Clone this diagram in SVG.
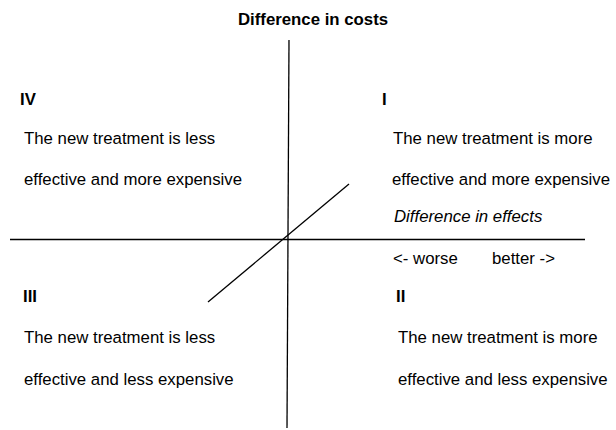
<svg xmlns="http://www.w3.org/2000/svg" width="616" height="430" viewBox="0 0 616 430">
<style>
text{font-family:"Liberation Sans",Arial,sans-serif;font-size:16.8px;fill:#000}
.b{font-weight:bold}
.i{font-style:italic}
.ax{stroke:#000;stroke-width:1.3;fill:none}
</style>
<rect width="616" height="430" fill="#fff"/>
<g id="connectors">
<line class="ax" x1="289" y1="40" x2="287" y2="428"/>
<line class="ax" x1="10" y1="239.5" x2="585" y2="239.5"/>
<line class="ax" x1="208" y1="302" x2="349" y2="184"/>
</g>
<g id="title"><text class="b" x="313" y="25" text-anchor="middle">Difference in costs</text></g>
<g id="q4">
<text class="b" x="20" y="105">IV</text>
<text x="24" y="144">The new treatment is less</text>
<text x="24" y="185">effective and more expensive</text>
</g>
<g id="q1">
<text class="b" x="382" y="105">I</text>
<text x="393" y="144">The new treatment is more</text>
<text x="392" y="185">effective and more expensive</text>
</g>
<g id="effects">
<text class="i" x="394" y="222">Difference in effects</text>
<text x="393" y="264">&lt;- worse</text>
<text x="492" y="264">better -&gt;</text>
</g>
<g id="q3">
<text class="b" x="23" y="302">III</text>
<text x="24" y="343">The new treatment is less</text>
<text x="24" y="385">effective and less expensive</text>
</g>
<g id="q2">
<text class="b" x="396" y="302">II</text>
<text x="398" y="343">The new treatment is more</text>
<text x="398" y="385">effective and less expensive</text>
</g>
</svg>
